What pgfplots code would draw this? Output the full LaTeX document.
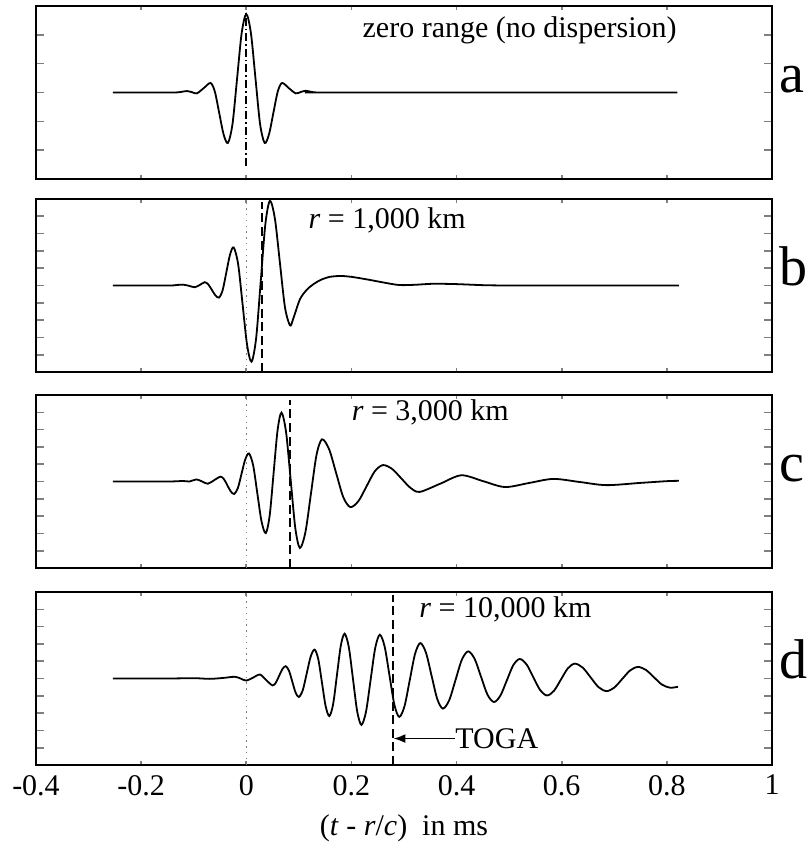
\documentclass[border=0pt]{standalone}
\usepackage{fontspec}
\setmainfont{Liberation Serif}
\usepackage{pgfplots}
\pgfplotsset{compat=1.18}
\usetikzlibrary{arrows.meta}
\pgfplotsset{
 panel/.style={scale only axis, width=368pt, height=86.5pt, xmin=-0.4, xmax=1,
   xtick={-0.4,-0.2,0,0.2,0.4,0.6,0.8,1}, xticklabels={}, yticklabels={},
   tick align=inside, tick pos=both, clip=false,
   axis line style={line width=0.9pt},
   major tick length=4pt,
   xtick style={line width=0.8pt, /pgfplots/major tick length=2pt},
   ytick style={line width=0.8pt},
   anchor=north west},
 wave/.style={black, line width=0.9pt, smooth, no marks},
 dotv/.style={gray, line width=0.7pt, dash pattern=on 0.7pt off 2.2pt},
 dashv/.style={black, line width=1pt, dash pattern=on 4.5pt off 2.3pt},
}
\newcommand{\txt}{\fontsize{15}{18}\selectfont}
\newcommand{\lab}{\fontsize{28}{34}\selectfont}
\begin{document}
\begin{tikzpicture}
\useasboundingbox (-18pt,3pt) rectangle (386pt,-419pt);
% ---------- a ----------
\begin{axis}[panel, at={(0pt,0pt)}, ymin=-3, ymax=3, ytick={-2,...,2}]
\addplot[wave] coordinates {(-0.254,0) (-0.16,0) (-0.135,0.0) (-0.124,0.02) (-0.113,0.05) (-0.103,0.01) (-0.094,-0.03) (-0.081,0.15) (-0.068,0.33) (-0.05975,0.0255) (-0.0515,-0.71) (-0.04325,-1.4455) (-0.035,-1.75) (-0.02625,-1.096) (-0.0175,0.485) (-0.00875,2.066) (0,2.72) (0.00875,2.066) (0.0175,0.485) (0.02625,-1.096) (0.035,-1.75) (0.04325,-1.4455) (0.0515,-0.71) (0.05975,0.0255) (0.068,0.33) (0.081,0.15) (0.094,-0.03) (0.104,0.02) (0.113,0.06) (0.124,0.02) (0.135,0) (0.16,0) (0.82,0)};
\addplot[black, line width=1pt, dash pattern=on 4pt off 1.5pt on 0.8pt off 1.5pt] coordinates {(0,-2.55) (0,2.75)};
\node[anchor=center, font=\txt] at (axis cs:0.52,2.15) {zero range (no dispersion)};
\node[anchor=base west, font=\lab, inner sep=0pt, xshift=3.5pt] at (axis cs:1,0) {a};
\end{axis}
% ---------- b ----------
\begin{axis}[panel, at={(0pt,-96.5pt)}, ymin=-5, ymax=5, ytick={-4,...,4}]
\addplot[dotv] coordinates {(0,-5) (0,5)};
\addplot[dashv] coordinates {(0.029,-5) (0.029,4.8)};
\addplot[wave] coordinates {(-0.254,0) (-0.15,0) (-0.135,0.02) (-0.121,0.05) (-0.11,-0.01) (-0.098,-0.1) (-0.088,0.04) (-0.079,0.19) (-0.07225,0.06) (-0.0655,-0.255) (-0.05875,-0.57) (-0.052,-0.7) (-0.045,-0.275) (-0.038,0.75) (-0.031,1.775) (-0.024,2.2) (-0.0155,1.234) (-0.007,-1.1) (0.0015,-3.434) (0.01,-4.4) (0.01875,-3.039) (0.0275,0.25) (0.03625,3.538) (0.045,4.9) (0.0545,3.846) (0.064,1.3) (0.0735,-1.246) (0.083,-2.3) (0.089,-1.95) (0.102,-0.8) (0.115,-0.25) (0.127,0.06) (0.142,0.33) (0.159,0.5) (0.18,0.55) (0.2,0.5) (0.23,0.35) (0.26,0.18) (0.29,0.03) (0.32,0.04) (0.355,0.1) (0.4,0.08) (0.45,0.02) (0.5,0) (0.6,0) (0.823,0)};
\node[anchor=center, font=\txt] at (axis cs:0.268,3.79) {\textit{r} = 1,000 km};
\node[anchor=base west, font=\lab, inner sep=0pt, xshift=3.5pt] at (axis cs:1,0) {b};
\end{axis}
% ---------- c ----------
\begin{axis}[panel, at={(0pt,-194.5pt)}, ymin=-5, ymax=5, ytick={-4,...,4}]
\addplot[dotv] coordinates {(0,-5) (0,5)};
\addplot[dashv] coordinates {(0.083,-5) (0.083,4.7)};
\addplot[wave] coordinates {(-0.254,0) (-0.15,0) (-0.12,0.03) (-0.108,0) (-0.095,0.12) (-0.084,0) (-0.073,-0.13) (-0.061,0.08) (-0.049,0.28) (-0.0425,0.134) (-0.036,-0.22) (-0.0295,-0.574) (-0.023,-0.72) (-0.016,-0.377) (-0.009,0.45) (-0.002,1.277) (0.005,1.62) (0.013,0.947) (0.021,-0.68) (0.029,-2.307) (0.037,-2.98) (0.0445,-1.961) (0.052,0.5) (0.0595,2.961) (0.067,3.98) (0.07575,2.835) (0.0845,0.07) (0.09325,-2.695) (0.102,-3.84) (0.1125,-2.921) (0.123,-0.7) (0.1335,1.521) (0.144,2.44) (0.1575,1.866) (0.171,0.48) (0.1845,-0.906) (0.198,-1.48) (0.2135,-1.124) (0.229,-0.265) (0.2445,0.594) (0.26,0.95) (0.2775,0.723) (0.295,0.175) (0.3125,-0.373) (0.33,-0.6) (0.3695,-0.12) (0.409,0.36) (0.4505,0.02) (0.492,-0.32) (0.538,-0.085) (0.584,0.15) (0.6345,-0.03) (0.685,-0.21) (0.75,-0.08) (0.8,0.02) (0.823,0.04)};
\node[anchor=center, font=\txt] at (axis cs:0.35,3.97) {\textit{r} = 3,000 km};
\node[anchor=base west, font=\lab, inner sep=0pt, xshift=3.5pt] at (axis cs:1,0) {c};
\end{axis}
% ---------- d ----------
\begin{axis}[panel, at={(0pt,-293pt)}, ymin=-5, ymax=5, ytick={-4,...,4},
  xticklabels={-0.4,-0.2,0,0.2,0.4,0.6,0.8,1},
  xticklabel style={font=\txt, yshift=-1.5pt}]
\addplot[dotv] coordinates {(0,-5) (0,5)};
\addplot[dashv] coordinates {(0.28,-5) (0.28,4.8)};
\addplot[wave] coordinates {(-0.254,0) (-0.15,0) (-0.1,0.02) (-0.07,-0.02) (-0.045,0.03) (-0.022,0.1) (-0.011,0.0) (0,-0.12) (0.013,0.05) (0.026,0.23) (0.038,-0.1) (0.05,-0.4) (0.05625,-0.2375) (0.0625,0.155) (0.06875,0.5475) (0.075,0.71) (0.08125,0.449) (0.0875,-0.18) (0.09375,-0.809) (0.1,-1.07) (0.1075,-0.669) (0.115,0.3) (0.1225,1.269) (0.13,1.67) (0.137,1.108) (0.144,-0.25) (0.151,-1.608) (0.158,-2.17) (0.16525,-1.473) (0.1725,0.21) (0.17975,1.893) (0.187,2.59) (0.195,1.818) (0.203,-0.045) (0.211,-1.908) (0.219,-2.68) (0.22775,-1.917) (0.2365,-0.075) (0.24525,1.767) (0.254,2.53) (0.26325,1.835) (0.2725,0.155) (0.28175,-1.525) (0.291,-2.22) (0.301,-1.595) (0.311,-0.085) (0.321,1.425) (0.331,2.05) (0.34175,1.495) (0.3525,0.155) (0.36325,-1.185) (0.374,-1.74) (0.386,-1.255) (0.398,-0.085) (0.41,1.085) (0.422,1.57) (0.43425,1.141) (0.4465,0.105) (0.45875,-0.931) (0.471,-1.36) (0.48325,-0.995) (0.4955,-0.115) (0.50775,0.765) (0.52,1.13) (0.533,0.821) (0.546,0.075) (0.559,-0.671) (0.572,-0.98) (0.58525,-0.711) (0.5985,-0.06) (0.61175,0.591) (0.625,0.86) (0.64,0.627) (0.655,0.065) (0.67,-0.497) (0.685,-0.73) (0.7,-0.525) (0.715,-0.03) (0.73,0.465) (0.745,0.67) (0.76025,0.494) (0.7755,0.07) (0.79075,-0.354) (0.806,-0.53) (0.821,-0.48)};
\node[anchor=center, font=\txt] at (axis cs:0.493,3.97) {\textit{r} = 10,000 km};
\draw[-{Latex[length=6pt,width=4.5pt]}, line width=0.8pt] (axis cs:0.397,-3.47) -- (axis cs:0.28,-3.47);
\node[anchor=west, inner sep=0pt, font=\txt] at (axis cs:0.397,-3.47) {TOGA};
\node[anchor=base west, font=\lab, inner sep=0pt, xshift=3.5pt] at (axis cs:1,0) {d};
\node[font=\txt] at (rel axis cs:0.5,0) [yshift=-31.5pt] {(\textit{t} - \textit{r}/\textit{c})\ \ in ms};
\end{axis}
\end{tikzpicture}
\end{document}
